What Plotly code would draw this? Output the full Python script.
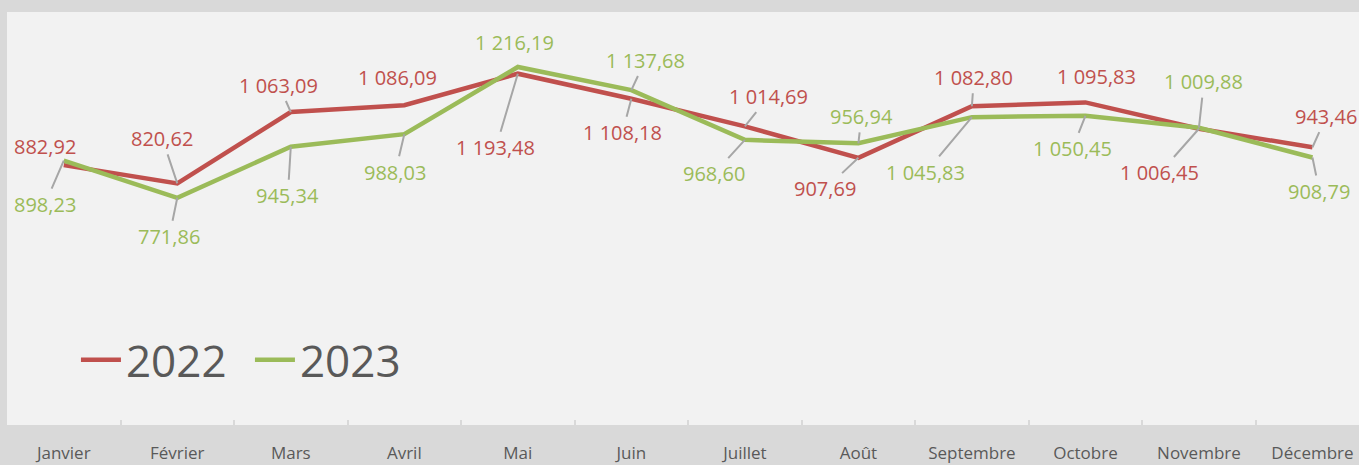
import plotly.graph_objects as go

months = ["Janvier", "Février", "Mars", "Avril", "Mai", "Juin", "Juillet",
          "Août", "Septembre", "Octobre", "Novembre", "Décembre"]
v2022 = [882.92, 820.62, 1063.09, 1086.09, 1193.48, 1108.18, 1014.69,
         907.69, 1082.80, 1095.83, 1006.45, 943.46]
v2023 = [898.23, 771.86, 945.34, 988.03, 1216.19, 1137.68, 968.60,
         956.94, 1045.83, 1050.45, 1009.88, 908.79]

RED = "#c0504d"
GREEN = "#9bbb59"
TXT = "#595959"
LEADER = "#a6a6a6"
FONT = "Open Sans"

# label offsets (pixels, label centre relative to point) and leader-line flags
off2022 = [(-19, -19, False), (-15, -45, True), (-12, -27, True), (-7, -28, False),
           (-22, 74, True), (-9, 34, True), (24, -30, True), (-33, 31, True),
           (2, -29, True), (11, -26, False), (-39, 44, True), (14, -31, True)]
off2023 = [(-19, 44, True), (-8, 39, True), (-3, 49, True), (-9, 38, True),
           (-3, -24, False), (14, -30, True), (-31, 34, True), (3, -27, True),
           (-46, 55, True), (-13, 33, True), (5, -46, True), (7, 34, True)]


def fmt(v):
    s = f"{v:,.2f}"
    return s.replace(",", " ").replace(".", ",")


fig = go.Figure()
fig.add_trace(go.Scatter(x=months, y=v2022, name="2022", mode="lines",
                         line=dict(color=RED, width=4.5)))
fig.add_trace(go.Scatter(x=months, y=v2023, name="2023", mode="lines",
                         line=dict(color=GREEN, width=4.5)))

annotations = []
for vals, offs, col in ((v2022, off2022, RED), (v2023, off2023, GREEN)):
    for m, v, (dx, dy, lead) in zip(months, vals, offs):
        annotations.append(dict(
            x=m, y=v, xref="x", yref="y", text=fmt(v),
            showarrow=True, ax=dx, ay=dy, arrowhead=0, arrowwidth=2,
            arrowcolor=LEADER if lead else "rgba(0,0,0,0)",
            standoff=0, startstandoff=1,
            font=dict(family=FONT, size=20, color=col)))

fig.update_layout(
    width=1359, height=465,
    margin=dict(l=7, r=0, t=12, b=40),
    paper_bgcolor="#d9d9d9", plot_bgcolor="#f2f2f2",
    showlegend=True,
    legend=dict(orientation="h", x=0.051, y=0.157, xanchor="left", yanchor="middle",
                font=dict(family=FONT, size=44, color=TXT),
                bgcolor="rgba(0,0,0,0)", itemwidth=40, tracegroupgap=0,
                entrywidth=119),
    annotations=annotations,
    xaxis=dict(type="category", range=[-0.5, 11.41], tickson="boundaries",
               ticks="inside", ticklen=5, tickwidth=1.5, tickcolor="#d9d9d9",
               showline=False, showgrid=False, zeroline=False,
               tickfont=dict(family=FONT, size=17, color=TXT),
               ticklabelstandoff=16),
    yaxis=dict(range=[0, 1403], visible=False, showgrid=False, zeroline=False),
)

fig.write_html("out.html", config={"displayModeBar": False},
               post_script="document.body.style.margin='0';"
                           "document.body.style.background='#d9d9d9';")
